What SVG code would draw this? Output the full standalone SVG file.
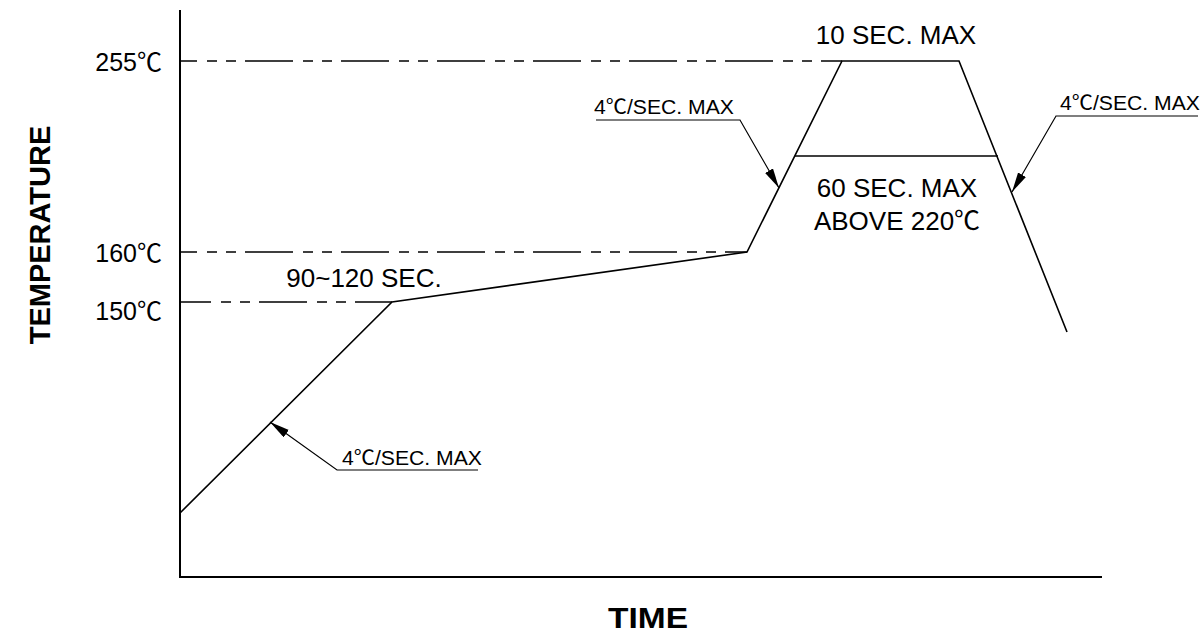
<svg xmlns="http://www.w3.org/2000/svg" width="1203" height="635" viewBox="0 0 1203 635">
<style>
text{font-family:"Liberation Sans","Noto Sans CJK SC",sans-serif;fill:#000}
.ax{font-size:25px}
.lb{font-size:26px}
.sm{font-size:20px}
.ttl{font-size:29px;font-weight:bold}
.axis{stroke:#000;stroke-width:2;fill:none}
.crv{stroke:#000;stroke-width:1.6;fill:none}
.dash{stroke:#000;stroke-width:1.6;fill:none;stroke-dasharray:48 10 10 9 10 9}
.ldr{stroke:#000;stroke-width:1.2;fill:none}
</style>
<defs>
<marker id="ah" markerUnits="userSpaceOnUse" markerWidth="22" markerHeight="10" refX="20" refY="4.5" orient="auto">
<path d="M0,0 L20,4.5 L0,9 z" fill="#000"/>
</marker>
</defs>
<g id="axes">
<line class="axis" x1="180" y1="10" x2="180" y2="578"/>
<line class="axis" x1="179" y1="577" x2="1102" y2="577"/>
</g>
<g id="gridlines">
<line class="dash" x1="180" y1="61" x2="842" y2="61" stroke-dashoffset="31"/>
<line class="dash" x1="180" y1="252" x2="747" y2="252" stroke-dashoffset="31"/>
<line class="dash" x1="180" y1="302" x2="392" y2="302" stroke-dashoffset="17"/>
</g>
<g id="profile">
<polyline class="crv" points="180,513 392,302 747,252 842,61 959,61 1067,332"/>
<line class="crv" x1="795" y1="156" x2="998" y2="156"/>
</g>
<g id="connectors">
<polyline class="ldr" points="596,120 740,120 779,188" marker-end="url(#ah)"/>
<polyline class="ldr" points="1198,116 1056,116 1012,192" marker-end="url(#ah)"/>
<polyline class="ldr" points="478,470 337,470 270,422" marker-end="url(#ah)"/>
</g>
<g id="labels">
<text class="ax" x="162" y="71" text-anchor="end">255℃</text>
<text class="ax" x="162" y="262" text-anchor="end">160℃</text>
<text class="ax" x="162" y="320" text-anchor="end">150℃</text>
<text class="lb" x="896" y="44" text-anchor="middle">10 SEC. MAX</text>
<text class="lb" x="364" y="287" text-anchor="middle">90~120 SEC.</text>
<text class="lb" x="897" y="197" text-anchor="middle">60 SEC. MAX</text>
<text class="lb" x="897" y="230" text-anchor="middle">ABOVE 220℃</text>
<text class="sm" x="594" y="114" textLength="140" lengthAdjust="spacingAndGlyphs">4℃/SEC. MAX</text>
<text class="sm" x="1060" y="110" textLength="140" lengthAdjust="spacingAndGlyphs">4℃/SEC. MAX</text>
<text class="sm" x="342" y="465" textLength="140" lengthAdjust="spacingAndGlyphs">4℃/SEC. MAX</text>
<text class="ttl" x="608" y="628" textLength="80" lengthAdjust="spacingAndGlyphs">TIME</text>
<text class="ttl" transform="translate(50,235) rotate(-90)" text-anchor="middle">TEMPERATURE</text>
</g>
</svg>
